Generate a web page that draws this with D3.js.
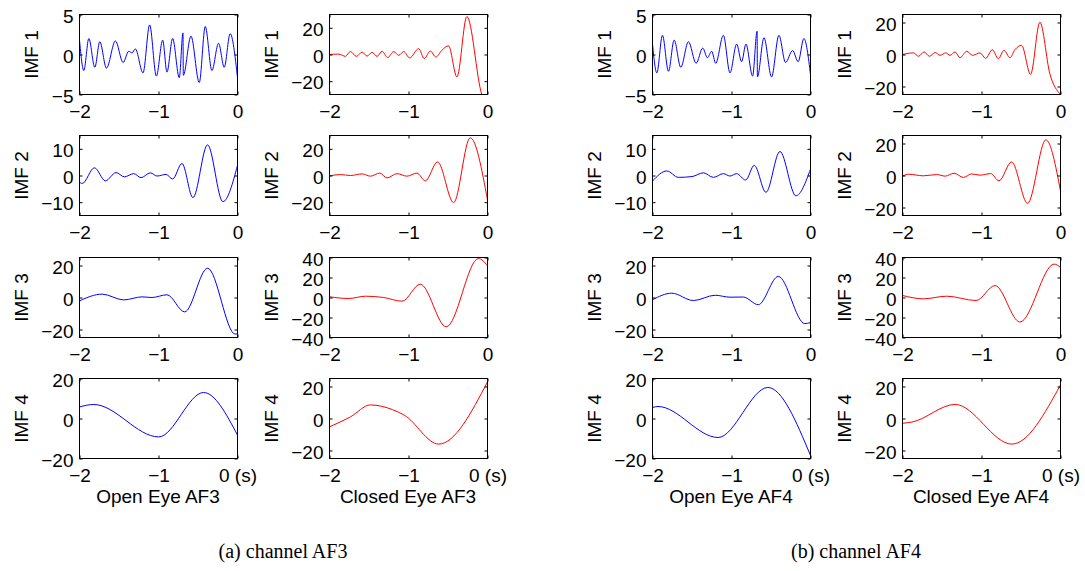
<!DOCTYPE html>
<html>
<head>
<meta charset="utf-8">
<script src="https://cdn.jsdelivr.net/npm/d3@7"></script>
<style>
  body { margin: 0; background: #fff; }
  text { font-family: "Liberation Sans", Arial, sans-serif; fill: #000; }
</style>
</head>
<body>
<div id="my_dataviz"></div>
<script>
// time axis (s), same for every panel
var xTicks = [-2, -1, 0];
var xTickLabels = ["\u22122", "\u22121", "0"];
var xTickLabelsLast = ["\u22122", "\u22121", "0 (s)"];

var imfNames = ["IMF 1", "IMF 2", "IMF 3", "IMF 4"];
var columnTitles = ["Open Eye AF3", "Closed Eye AF3", "Open Eye AF4", "Closed Eye AF4"];
var captions = ["(a) channel AF3", "(b) channel AF4"];

// y limits (symmetric) and ticks, one entry per IMF row
var openAF3Limits = [5, 15, 25, 20];
var closedAF3Limits = [30, 30, 40, 25];
var openAF4Limits = [5, 15, 25, 20];
var closedAF4Limits = [25, 25, 40, 25];

var openAF3Ticks = [[-5, 0, 5], [-10, 0, 10], [-20, 0, 20], [-20, 0, 20]];
var closedAF3Ticks = [[-20, 0, 20], [-20, 0, 20], [-40, -20, 0, 20, 40], [-20, 0, 20]];
var openAF4Ticks = [[-5, 0, 5], [-10, 0, 10], [-20, 0, 20], [-20, 0, 20]];
var closedAF4Ticks = [[-20, 0, 20], [-20, 0, 20], [-40, -20, 0, 20, 40], [-20, 0, 20]];

// IMF traces, [time, amplitude]
var openAF3Imf1 = [[-2, 1.8], [-1.945, -2.0], [-1.882, 2.0], [-1.806, -1.6], [-1.743, 1.6], [-1.659, -1.7],
  [-1.545, 1.7], [-1.448, -1.0], [-1.377, 0.4], [-1.335, 0.2], [-1.293, 0.7], [-1.196, -2.3], [-1.112, 3.7],
  [-1.027, -2.7], [-0.947, 1.8], [-0.893, -2.2], [-0.821, 2.0], [-0.737, -2.9], [-0.69, 2.7], [-0.686, -2.6],
  [-0.589, 2.3], [-0.484, -3.5], [-0.408, 3.5], [-0.324, -2.0], [-0.240, 1.4], [-0.168, -1.6], [-0.093, 2.6], [0, -2.9]];
var openAF3Imf2 = [[-2, -2.4], [-1.966, -3.0], [-1.811, 2.9], [-1.672, -2.0], [-1.537, 1.1], [-1.432, -0.5],
  [-1.314, 0.7], [-1.221, -0.8], [-1.103, 1.0], [-1.019, -0.2], [-0.905, 0.4], [-0.821, -1.3], [-0.703, 4.5],
  [-0.564, -8.3], [-0.379, 11.5], [-0.185, -9.8], [0, 3.8]];
var openAF3Imf3 = [[-2, -2.1], [-1.714, 2.1], [-1.44, -1.5], [-1.208, 0.4], [-1.082, 0], [-0.893, 1.7],
  [-0.669, -9.0], [-0.379, 18.3], [-0.029, -22.9], [0, -22.7]];
var openAF3Imf4 = [[-2, 5.8], [-1.819, 7.0], [-0.998, -9.2], [-0.429, 13], [0, -8.3]];

var closedAF3Imf1 = [[-2, 0], [-1.9, 0.3], [-1.86, 0], [-1.8, -1.4], [-1.735, 2.2], [-1.66, -1.4], [-1.587, 1.8],
  [-1.524, -1.2], [-1.461, 1.6], [-1.398, -1.4], [-1.335, 2.4], [-1.263, -2.3], [-1.187, 2.2], [-1.124, -0.6],
  [-1.061, 2.2], [-0.985, -2.6], [-0.872, 4.4], [-0.8, -3.0], [-0.724, 2.6], [-0.653, -1.9], [-0.58, 3.0],
  [-0.493, 6.5], [-0.387, -16.8], [-0.261, 28.5], [-0.072, -30], [0, -38]];
var closedAF3Imf2 = [[-2, -0.3], [-1.861, 0.7], [-1.735, 0], [-1.587, 1.2], [-1.482, -0.5], [-1.364, 1.8],
  [-1.272, -1.8], [-1.145, 1.4], [-1.019, -0.5], [-0.893, 1.8], [-0.787, -4.0], [-0.632, 10.2], [-0.429, -20.3],
  [-0.219, 28.3], [0, -18.4]];
var closedAF3Imf3 = [[-2, 0.7], [-1.756, -1.0], [-1.545, 1.3], [-1.314, 0], [-1.082, -3.7], [-0.851, 13.3],
  [-0.522, -29.3], [-0.114, 39], [0, 31.7]];
var closedAF3Imf4 = [[-2, -5.2], [-1.735, 1.0], [-1.482, 8.5], [-1.2, 5.5], [-1.05, 2.0], [-0.619, -16], [0, 22.9]];

var openAF4Imf1 = [[-2, 1.3], [-1.945, -2.3], [-1.874, 2.4], [-1.798, -2.1], [-1.726, 1.8], [-1.642, -1.6],
  [-1.545, 1.6], [-1.448, -1.1], [-1.364, 0.8], [-1.305, -0.4], [-1.251, 0.4], [-1.2, -1.1], [-1.103, 2.4],
  [-1.019, -2.3], [-0.935, 1.3], [-0.872, -0.9], [-0.817, 1.3], [-0.733, -2.7], [-0.676, 2.9], [-0.672, -2.8],
  [-0.589, 2.1], [-0.493, -2.8], [-0.4, 2.4], [-0.316, -1.0], [-0.227, 0.5], [-0.156, -0.9], [-0.084, 2.0], [0, -2.5]];
var openAF4Imf2 = [[-2, -2.1], [-1.819, 1.7], [-1.672, -0.7], [-1.5, -0.4], [-1.356, 1.0], [-1.229, -0.7],
  [-1.103, 0.7], [-1.019, -0.2], [-0.935, 0.7], [-0.821, -1.7], [-0.712, 3.8], [-0.564, -6.3], [-0.387, 9.0],
  [-0.185, -7.6], [0, 2.4]];
var openAF4Imf3 = [[-2, -1.4], [-1.756, 2.7], [-1.482, -1.9], [-1.208, 1.4], [-1.019, 0.2], [-0.851, 0.3],
  [-0.661, -4.5], [-0.408, 13.2], [-0.072, -16.3], [0, -15.7]];
var openAF4Imf4 = [[-2, 5.5], [-1.93, 6.0], [-1.17, -9.5], [-0.54, 15.5], [0, -18.5]];

var closedAF4Imf1 = [[-2, 0], [-1.861, 1.0], [-1.798, -1.1], [-1.726, 1.6], [-1.659, -1.1], [-1.587, 1.2],
  [-1.524, -0.5], [-1.453, 1.0], [-1.398, -0.5], [-1.335, 1.6], [-1.272, -2.0], [-1.187, 2.0], [-1.112, -0.5],
  [-1.019, 1.0], [-0.947, -2.4], [-0.863, 3.0], [-0.787, -2.6], [-0.716, 2.6], [-0.64, -2.0], [-0.577, 3.0],
  [-0.493, 5.7], [-0.379, -12.4], [-0.261, 20.2], [-0.135, -12], [0, -25]];
var closedAF4Imf2 = [[-2, -0.4], [-1.924, 0.8], [-1.735, -0.2], [-1.566, 0.6], [-1.461, -0.4], [-1.347, 1.4],
  [-1.229, -1.2], [-1.124, 1.0], [-1.019, 0.2], [-0.884, 1.2], [-0.779, -3.3], [-0.619, 8.5], [-0.417, -17.4],
  [-0.185, 22.3], [0, -9.7]];
var closedAF4Imf3 = [[-2, 2.0], [-1.735, -1.3], [-1.44, 1.3], [-1.069, -3.0], [-0.829, 11.9], [-0.514, -24.5],
  [-0.08, 33.4], [0, 30]];
var closedAF4Imf4 = [[-2, -3.0], [-1.88, -2.2], [-1.333, 8.8], [-0.616, -16], [0, 21]];

// layout
var colLeft = [79, 329, 652, 902];
var rowTop = [14, 135, 257, 378];
var width = 158, height = 80;
var tickFont = 19;

var columns = [
  {series: [openAF3Imf1, openAF3Imf2, openAF3Imf3, openAF3Imf4], lim: openAF3Limits, ticks: openAF3Ticks, colour: "#0000ff"},
  {series: [closedAF3Imf1, closedAF3Imf2, closedAF3Imf3, closedAF3Imf4], lim: closedAF3Limits, ticks: closedAF3Ticks, colour: "#ff0000"},
  {series: [openAF4Imf1, openAF4Imf2, openAF4Imf3, openAF4Imf4], lim: openAF4Limits, ticks: openAF4Ticks, colour: "#0000ff"},
  {series: [closedAF4Imf1, closedAF4Imf2, closedAF4Imf3, closedAF4Imf4], lim: closedAF4Limits, ticks: closedAF4Ticks, colour: "#ff0000"}
];

var svg = d3.select("#my_dataviz")
  .append("svg")
    .attr("width", 1085)
    .attr("height", 571);

function style_axis(g) {
  g.select(".domain").remove();
  g.selectAll("line").attr("stroke", "#000");
  g.selectAll("text")
    .attr("font-family", "Liberation Sans, Arial, sans-serif")
    .attr("font-size", tickFont)
    .attr("fill", "#000");
}

function make_panel(g, data, lim, ticks, colour, row, id) {
  var x = d3.scaleLinear().domain([-2, 0]).range([0, width]);
  var y = d3.scaleLinear().domain([-lim, lim]).range([height, 0]);

  g.append("clipPath").attr("id", id)
    .append("rect").attr("width", width).attr("height", height);

  var line = d3.line()
    .x(function(d) { return x(d[0]); })
    .y(function(d) { return y(d[1]); })
    .curve(d3.curveMonotoneX);

  g.append("path")
    .datum(data)
    .attr("clip-path", "url(#" + id + ")")
    .attr("fill", "none")
    .attr("stroke", colour)
    .attr("stroke-width", 1)
    .attr("d", line);

  var labels = row == 3 ? xTickLabelsLast : xTickLabels;

  // inward ticks on all four sides, like a boxed matlab axes
  g.append("g")
    .attr("transform", "translate(0," + height + ")")
    .call(d3.axisBottom(x).tickValues(xTicks).tickSize(-3).tickPadding(10)
      .tickFormat(function(d, i) { return labels[i]; }))
    .call(style_axis);
  g.append("g")
    .call(d3.axisTop(x).tickValues(xTicks).tickSize(-3).tickFormat(""))
    .call(style_axis);
  var yAxis = g.append("g")
    .call(d3.axisLeft(y).tickValues(ticks).tickSize(-3).tickPadding(6))
    .call(style_axis);
  yAxis.selectAll("text").attr("dy", "0.4em");
  g.append("g")
    .attr("transform", "translate(" + width + ",0)")
    .call(d3.axisRight(y).tickValues(ticks).tickSize(-3).tickFormat(""))
    .call(style_axis);

  g.append("rect")
    .attr("width", width)
    .attr("height", height)
    .attr("fill", "none")
    .attr("stroke", "#000")
    .attr("stroke-width", 1);

  // ylabel sits left of the widest tick label
  var minX = 0;
  yAxis.selectAll("text").each(function() {
    var b = this.getBBox();
    if (b.x < minX) minX = b.x;
  });
  g.append("text")
    .attr("transform", "translate(" + (minX - 20) + "," + (height / 2) + ")rotate(-90)")
    .attr("text-anchor", "middle")
    .attr("dy", "0.35em")
    .attr("font-size", tickFont)
    .text(imfNames[row]);
}

columns.forEach(function(col, c) {
  for (var r = 0; r < 4; r++) {
    var g = svg.append("g")
      .attr("transform", "translate(" + (colLeft[c] + 0.5) + "," + (rowTop[r] + 0.5) + ")");
    make_panel(g, col.series[r], col.lim[r], col.ticks[r], col.colour, r, "clip" + c + r);
  }
  svg.append("text")
    .attr("x", colLeft[c] + width / 2)
    .attr("y", 503)
    .attr("text-anchor", "middle")
    .attr("font-size", 19)
    .text(columnTitles[c]);
});

// sub-figure captions
[0, 1].forEach(function(k) {
  var left = colLeft[2 * k], right = colLeft[2 * k + 1] + width;
  svg.append("text")
    .attr("x", (left + right) / 2)
    .attr("y", 558)
    .attr("text-anchor", "middle")
    .attr("font-size", 20)
    .style("font-family", "'Liberation Serif', 'Times New Roman', serif")
    .text(captions[k]);
});
</script>
</body>
</html>
